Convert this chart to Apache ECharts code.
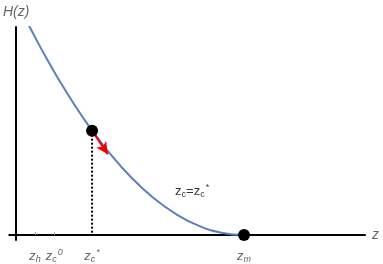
<!DOCTYPE html>
<html><head><meta charset="utf-8">
<script src="https://cdn.jsdelivr.net/npm/echarts@6/dist/echarts.min.js"></script>
<style>html,body{margin:0;padding:0;background:#fff}#c{width:383px;height:264px}</style>
</head><body><div id="c"></div>
<script>
// curve H(z)
const curveZ = [0.5, 1, 1.5, 2, 2.5, 3, 3.5, 4, 5, 6, 7, 8, 9, 10];
const curveH = [90.3, 81, 72.3, 64, 56.3, 49, 42.3, 36, 25, 16, 9, 4, 1, 0];
// marked points
const tickZ = [0.83, 1.67, 3.33, 10];
const tickLabels = ['{z|z}{sub|h}', '{z|z}{sub|c}{sup|0}', '{z|z}{sub|c}{sup|*}', '{z|z}{sub|m}'];
const pointZ = [3.33, 10];
const pointH = [44.4, 0];
const arrowFrom = [3.33, 44.4];
const arrowTo = [4.02, 34.4];
const noteText = '{z|z}{sub|c}{z|=z}{sub|c}{sup|*}';
const notePos = [7.72, 18.6];

const chart = echarts.init(document.getElementById('c'), null, {renderer: 'canvas'});
const gray = '#666';
const font = 'Liberation Sans, Arial, sans-serif';
const richGray = {
  z: {fontSize: 13, fontStyle: 'italic', color: gray, fontFamily: font},
  sub: {fontSize: 9, fontStyle: 'italic', color: gray, fontFamily: font, padding: [7, 0, 0, 0]},
  sup: {fontSize: 9, fontStyle: 'italic', color: gray, fontFamily: font, padding: [0, 0, 7, 1]}
};
const richBlack = {
  z: {fontSize: 13, color: '#000', fontFamily: font},
  sub: {fontSize: 9, color: '#000', fontFamily: font, padding: [7, 0, 0, 0]},
  sup: {fontSize: 9, color: '#000', fontFamily: font, padding: [0, 0, 7, 1]}
};
chart.setOption({
  animation: false,
  grid: {left: 9, right: 18, top: 27, bottom: 21},
  xAxis: {
    type: 'value', min: -0.307, max: 15.31,
    name: 'z', nameLocation: 'end', nameGap: 7,
    nameTextStyle: {fontSize: 14, fontStyle: 'italic', color: gray, fontFamily: font, verticalAlign: 'middle'},
    axisLine: {onZero: true, lineStyle: {color: '#000', width: 2}},
    axisTick: {show: true, inside: true, length: 3, customValues: tickZ.slice(0, 2), lineStyle: {color: '#999', width: 1}},
    axisLabel: {
      show: true, customValues: tickZ, margin: 8,
      formatter: function (v) { const i = tickZ.indexOf(v); return i >= 0 ? tickLabels[i] : ''; },
      rich: richGray
    },
    splitLine: {show: false}
  },
  yAxis: {
    type: 'value', min: -2.1, max: 88.5,
    name: 'H(z)', nameLocation: 'end', nameGap: 8,
    nameTextStyle: {fontSize: 14, fontStyle: 'italic', color: gray, fontFamily: font, align: 'center'},
    axisLine: {onZero: true, lineStyle: {color: '#000', width: 2}},
    axisTick: {show: false}, axisLabel: {show: false}, splitLine: {show: false}
  },
  series: [
    {
      type: 'line', data: curveZ.map((z, i) => [z, curveH[i]]), smooth: true,
      showSymbol: false, lineStyle: {color: '#5b7fbf', width: 2}, clip: true, z: 3
    },
    {
      type: 'line', data: [[pointZ[0], pointH[0]], [pointZ[0], 0]], showSymbol: false,
      lineStyle: {color: '#000', width: 2, type: [2, 2]}, z: 2
    },
    {
      type: 'line', data: [], z: 4,
      markLine: {
        silent: true, symbol: ['none', 'arrow'], symbolSize: [9, 12],
        lineStyle: {color: '#e00', width: 2, type: 'solid', opacity: 1}, label: {show: false},
        data: [[{coord: arrowFrom}, {coord: arrowTo}]]
      }
    },
    {
      type: 'scatter', data: pointZ.map((z, i) => [z, pointH[i]]), symbolSize: 12,
      itemStyle: {color: '#000', opacity: 1}, z: 5
    },
    {
      type: 'scatter', data: [notePos], symbolSize: 0, z: 5,
      label: {show: true, position: 'inside', formatter: noteText, rich: richBlack}
    }
  ]
});
</script></body></html>
